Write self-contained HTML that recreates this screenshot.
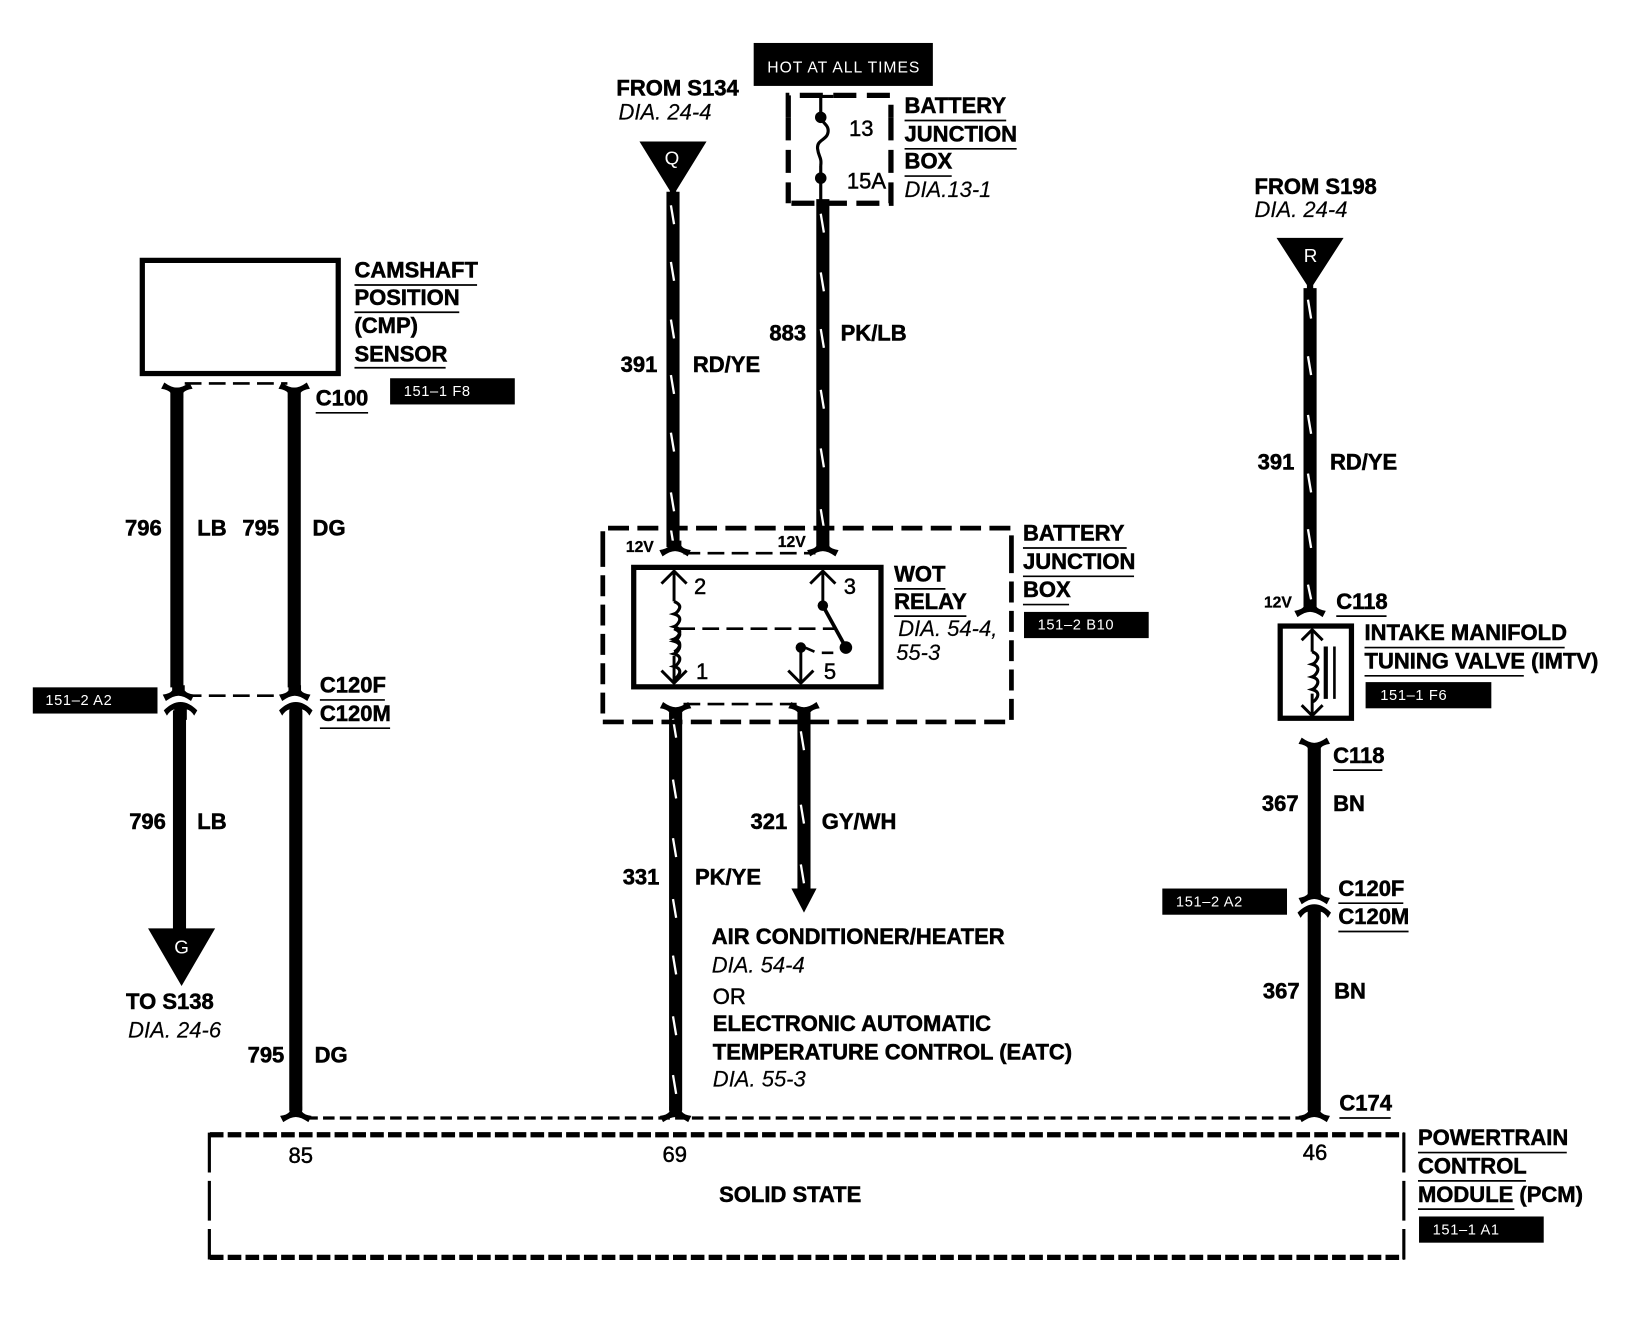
<!DOCTYPE html>
<html><head><meta charset="utf-8"><style>
html,body{margin:0;padding:0;background:#fff}
svg{display:block}
text{font-family:"Liberation Sans",sans-serif;fill:#000}
.b{font-weight:700;font-size:21px;stroke:#000;stroke-width:.5px}
.i{font-style:italic;font-size:21px;stroke:#000;stroke-width:.15px}
.r{font-size:21px;stroke:#000;stroke-width:.45px}
.v{font-weight:700;font-size:15px;stroke:#000;stroke-width:.3px}
.w{fill:#fff;font-size:14px;letter-spacing:.6px}
.u{stroke:#000;stroke-width:1.6;fill:none}
.wire{stroke:#000;stroke-width:12.5;fill:none}
.sl{stroke:#fff;stroke-width:2.2;fill:none}
.d{stroke:#000;fill:none}
</style></head><body>
<svg xmlns="http://www.w3.org/2000/svg" width="1644" height="1344" viewBox="-0.3 0 1569 1282.7">
<defs>
<path id="fork" d="M-6,-10 L-6,-5 Q-8,-2 -15,-1 L-12,5 Q-5,0 0,0 Q5,0 12,5 L15,-1 Q8,-2 6,-5 L6,-10Z"/>
<path id="dome" d="M-13,8 Q-10,3 -6,2 L-6,12 L6,12 L6,2 Q10,3 13,8 L16,3 Q8,-5 0,-5 Q-8,-5 -16,3Z"/>
<path id="coil" d="M0,0 q7,3 5,7 q-2,4 -5,5 q7,2 5,7 q-2,4 -5,5 q7,2 5,7 q-2,4 -5,5 q7,2 5,7 q-2,4 -5,5" stroke="#000" stroke-width="3" fill="none"/>
</defs>

<!-- wires -->
<path class="wire" d="M642,183V522M785,190V522M1250,275V580M168.500,370V656M280.500,370V656M171,678V890M282,678V1060M644.500,680V1060M767,680V852M1254,712V855M1254,868V1060"/>
<polygon points="610,135 674,135 645,182 645,190 639,190 639,182"/>
<polygon points="1218,227 1282,227 1253,272 1253,280 1247,280 1247,272"/>
<polygon points="141,886 205,886 173,941"/>
<polygon points="755,848 779,848 767,871"/>

<!-- slashes -->
<path class="sl" d="M640,196l3,18M640,250l3,18M640,305l3,18M640,358l3,18M640,413l3,18M640,470l3,18M640,505l3,18
M783,204l3,18M783,260l3,18M783,314l3,18M783,372l3,18M783,428l3,18M783,486l3,18
M1248,286l3,18M1248,340l3,18M1248,396l3,18M1248,452l3,18M1248,505l3,18M1248,558l3,14
M642,686l3,18M642,744l3,18M642,800l3,18M642,858l3,18M642,912l3,18M642,970l3,18M642,1026l3,18
M764,698l3,18M764,768l3,18M764,825l3,18"/>

<!-- connector flares -->
<use href="#fork" x="644" y="526"/><use href="#fork" x="785" y="526"/>
<use href="#fork" x="1250" y="584"/>
<use href="#fork" transform="translate(168.500,366) scale(1,-1) translate(0,-4)"/>
<use href="#fork" transform="translate(280.500,366) scale(1,-1) translate(0,-4)"/>
<use href="#fork" transform="translate(644.500,671) scale(1,-1) translate(0,-4)"/>
<use href="#fork" transform="translate(767,671) scale(1,-1) translate(0,-4)"/>
<use href="#fork" transform="translate(1254,705) scale(1,-1) translate(0,-4)"/>
<use href="#fork" x="170" y="664"/><use href="#fork" x="281" y="664"/>
<use href="#fork" x="1254" y="858"/>
<use href="#dome" x="172" y="675"/><use href="#dome" x="282" y="675"/><use href="#dome" x="1254" y="868"/>
<use href="#fork" x="282" y="1066"/><use href="#fork" x="644.500" y="1066"/><use href="#fork" x="1254" y="1066"/>

<!-- thin dashed links -->
<path class="d" stroke-width="2.500" stroke-dasharray="16 7" d="M176,366H274M176,664H276M652,528H778M652,672H760"/>
<path class="d" stroke-width="3" stroke-dasharray="11 5" d="M292,1067H1246"/>

<!-- camshaft box -->
<rect x="135.500" y="248.500" width="187" height="108" class="d" stroke-width="5"/>

<!-- fuse box -->
<path class="d" stroke-width="5" stroke-dasharray="22 10" d="M752,112V91H850V112"/>
<path class="d" stroke-width="5" stroke-dasharray="22 9" d="M752,112V194M850,112V194H752"/>
<path class="d" stroke-width="3" d="M783,92V110M783,110 c0,8 8,8 7,16 c-1,8 -11,7 -10,16 c1,8 4,8 3,16 M783,158V196M773,92H795"/>
<circle cx="783" cy="112" r="5.500"/><circle cx="783" cy="170" r="5.500"/>

<!-- relay dashed box -->
<path class="d" stroke-width="4.500" stroke-dasharray="20 8" d="M575,527V504H965V527M965,527V689H575V527"/>

<!-- relay -->
<rect x="604.500" y="541.500" width="236" height="114" class="d" stroke-width="5"/>
<path class="d" stroke-width="2.800" d="M643,545V574M643,626V652M631,557L643,545L655,557M631,640L643,652L655,640M785,545V578M773,557L785,545L797,557M764,618V652M752,640L764,652L776,640"/>
<use href="#coil" x="643" y="574"/><use href="#coil" x="643" y="600"/>
<path class="d" stroke-width="3.500" d="M785,578L807,618"/>
<circle cx="785" cy="578" r="5"/><circle cx="807" cy="618" r="6"/><circle cx="764" cy="618" r="5"/>
<path class="d" stroke-width="2.500" stroke-dasharray="16 7" d="M647,600H797"/>
<path class="d" stroke-width="2.500" d="M768,618L777,622M784,623H795"/>

<!-- IMTV -->
<rect x="1221.500" y="597.500" width="68" height="88" class="d" stroke-width="5"/>
<path class="d" stroke-width="2.800" d="M1252,601V622M1252,662V683M1242,611L1252,601L1262,611M1242,673L1252,683L1262,673"/>
<use href="#coil" x="1252" y="622"/>
<rect x="1263" y="617" width="4" height="50"/><rect x="1272" y="617" width="2.500" height="50"/>

<!-- PCM box -->
<path class="d" stroke-width="5" stroke-dasharray="13 4" d="M200,1083H1340M200,1200H1340"/>
<path class="d" stroke-width="3" stroke-dasharray="38 8" d="M199.500,1081V1202M1339.500,1081V1202"/>

<!-- tags -->
<rect x="719" y="41" width="171" height="41"/>
<rect x="372" y="361" width="119" height="25"/>
<rect x="31" y="656" width="119" height="25"/>
<rect x="977" y="584" width="119" height="25"/>
<rect x="1303" y="651" width="120" height="25"/>
<rect x="1109" y="848" width="119" height="25"/>
<rect x="1354" y="1161" width="119" height="25"/>
<text x="732" y="69" class="w" style="font-size:15px;letter-spacing:.9px">HOT AT ALL TIMES</text>
<text x="385" y="378" class="w">151–1 F8</text>
<text x="43" y="673" class="w">151–2 A2</text>
<text x="990" y="601" class="w">151–2 B10</text>
<text x="1317" y="668" class="w">151–1 F6</text>
<text x="1122" y="865" class="w">151–2 A2</text>
<text x="1367" y="1178" class="w">151–1 A1</text>
<text x="634" y="157" class="w" style="font-size:18px;letter-spacing:0">Q</text>
<text x="1244" y="250" class="w" style="font-size:18px;letter-spacing:0">R</text>
<text x="166" y="910" class="w" style="font-size:18px;letter-spacing:0">G</text>

<!-- labels -->
<text x="588" y="91" class="b">FROM S134</text>
<text x="590" y="114" class="i">DIA. 24-4</text>
<text x="863" y="108" class="b">BATTERY</text><line class="u" x1="863" y1="115" x2="960" y2="115"/>
<text x="863" y="135" class="b">JUNCTION</text><line class="u" x1="863" y1="142" x2="970" y2="142"/>
<text x="863" y="161" class="b">BOX</text><line class="u" x1="863" y1="168" x2="908" y2="168"/>
<text x="863" y="188" class="i">DIA.13-1</text>
<text x="810" y="130" class="r">13</text>
<text x="808" y="180" class="r">15A</text>
<text x="1197" y="185" class="b">FROM S198</text>
<text x="1197" y="207" class="i">DIA. 24-4</text>
<text x="338" y="265" class="b">CAMSHAFT</text><line class="u" x1="338" y1="272" x2="455" y2="272"/>
<text x="338" y="291" class="b">POSITION</text><line class="u" x1="338" y1="298" x2="438" y2="298"/>
<text x="338" y="318" class="b">(CMP)</text>
<text x="338" y="345" class="b">SENSOR</text><line class="u" x1="338" y1="351" x2="425" y2="351"/>
<text x="301" y="387" class="b">C100</text><line class="u" x1="301" y1="394" x2="351" y2="394"/>
<text x="119" y="511" class="b">796</text><text x="188" y="511" class="b">LB</text>
<text x="231" y="511" class="b">795</text><text x="298" y="511" class="b">DG</text>
<text x="305" y="661" class="b">C120F</text><line class="u" x1="305" y1="668" x2="367" y2="668"/>
<text x="305" y="688" class="b">C120M</text><line class="u" x1="305" y1="695" x2="372" y2="695"/>
<text x="123" y="791" class="b">796</text><text x="188" y="791" class="b">LB</text>
<text x="120" y="963" class="b">TO S138</text>
<text x="122" y="990" class="i">DIA. 24-6</text>
<text x="236" y="1014" class="b">795</text><text x="300" y="1014" class="b">DG</text>
<text x="592" y="355" class="b">391</text><text x="661" y="355" class="b">RD/YE</text>
<text x="734" y="325" class="b">883</text><text x="802" y="325" class="b">PK/LB</text>
<text x="597" y="527" class="v">12V</text><text x="742" y="522" class="v">12V</text>
<text x="662" y="567" class="r">2</text><text x="805" y="567" class="r">3</text>
<text x="664" y="648" class="r">1</text><text x="786" y="648" class="r">5</text>
<text x="853" y="555" class="b">WOT</text><line class="u" x1="853" y1="562" x2="902" y2="562"/>
<text x="853" y="581" class="b">RELAY</text><line class="u" x1="853" y1="588" x2="922" y2="588"/>
<text x="857" y="607" class="i">DIA. 54-4,</text>
<text x="855" y="630" class="i">55-3</text>
<text x="976" y="516" class="b">BATTERY</text><line class="u" x1="976" y1="523" x2="1075" y2="523"/>
<text x="976" y="543" class="b">JUNCTION</text><line class="u" x1="976" y1="550" x2="1082" y2="550"/>
<text x="976" y="570" class="b">BOX</text><line class="u" x1="976" y1="577" x2="1020" y2="577"/>
<text x="716" y="791" class="b">321</text><text x="784" y="791" class="b">GY/WH</text>
<text x="594" y="844" class="b">331</text><text x="663" y="844" class="b">PK/YE</text>
<text x="679" y="901" class="b">AIR CONDITIONER/HEATER</text>
<text x="679" y="928" class="i">DIA. 54-4</text>
<text x="680" y="958" class="r">OR</text>
<text x="680" y="984" class="b">ELECTRONIC AUTOMATIC</text>
<text x="680" y="1011" class="b">TEMPERATURE CONTROL (EATC)</text>
<text x="680" y="1037" class="i">DIA. 55-3</text>
<text x="1200" y="448" class="b">391</text><text x="1269" y="448" class="b">RD/YE</text>
<text x="1206" y="580" class="v">12V</text>
<text x="1275" y="581" class="b">C118</text><line class="u" x1="1275" y1="588" x2="1323" y2="588"/>
<text x="1302" y="611" class="b">INTAKE MANIFOLD</text><line class="u" x1="1302" y1="618" x2="1493" y2="618"/>
<text x="1302" y="638" class="b">TUNING VALVE (IMTV)</text><line class="u" x1="1302" y1="645" x2="1454" y2="645"/>
<text x="1272" y="728" class="b">C118</text><line class="u" x1="1272" y1="735" x2="1319" y2="735"/>
<text x="1204" y="774" class="b">367</text><text x="1272" y="774" class="b">BN</text>
<text x="1277" y="855" class="b">C120F</text><line class="u" x1="1277" y1="862" x2="1339" y2="862"/>
<text x="1277" y="882" class="b">C120M</text><line class="u" x1="1277" y1="889" x2="1344" y2="889"/>
<text x="1205" y="953" class="b">367</text><text x="1273" y="953" class="b">BN</text>
<text x="1278" y="1060" class="b">C174</text><line class="u" x1="1278" y1="1067" x2="1327" y2="1067"/>
<text x="275" y="1110" class="r">85</text>
<text x="632" y="1109" class="r">69</text>
<text x="1243" y="1107" class="r">46</text>
<text x="686" y="1147" class="b">SOLID STATE</text>
<text x="1353" y="1093" class="b">POWERTRAIN</text><line class="u" x1="1353" y1="1100" x2="1495" y2="1100"/>
<text x="1353" y="1120" class="b">CONTROL</text><line class="u" x1="1353" y1="1127" x2="1456" y2="1127"/>
<text x="1353" y="1147" class="b">MODULE (PCM)</text><line class="u" x1="1353" y1="1154" x2="1445" y2="1154"/>
</svg>
</body></html>
